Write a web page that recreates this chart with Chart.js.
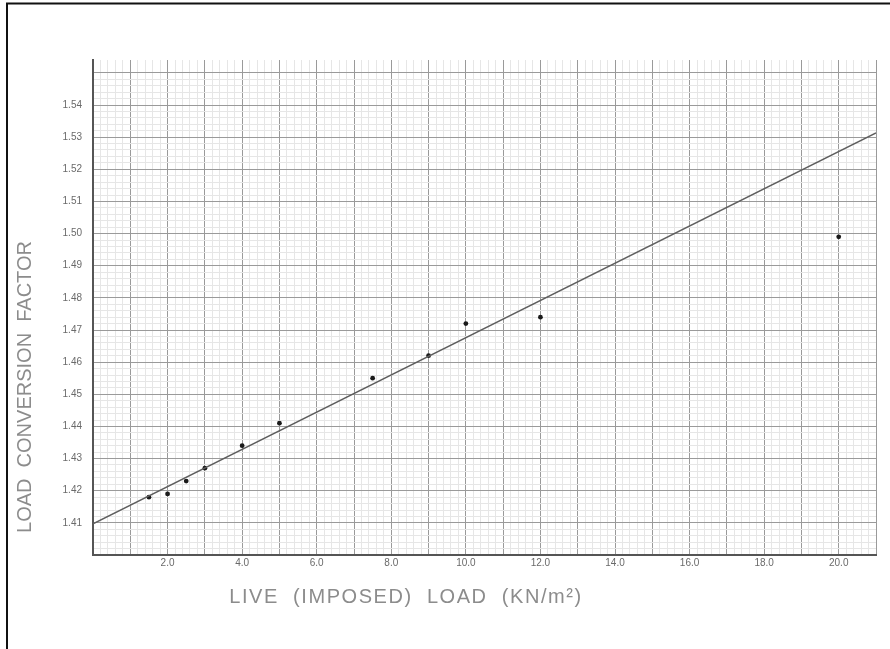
<!DOCTYPE html>
<html>
<head>
<meta charset="utf-8">
<script src="https://cdn.jsdelivr.net/npm/chart.js@4/dist/chart.umd.min.js"></script>
<style>
html,body{margin:0;padding:0;background:#fff;}
#c{display:block;}
</style>
</head>
<body>
<canvas id="c" width="890" height="649"></canvas>
<script>
// ---- data ----
const loads   = [1.5, 2.0, 2.5, 3.0, 4.0, 5.0, 7.5, 9.0, 10.0, 12.0, 20.0];
const factors = [1.418, 1.419, 1.423, 1.427, 1.434, 1.441, 1.455, 1.462, 1.472, 1.474, 1.499];
const fitLoads   = [0, 21];
const fitFactors = [1.4097, 1.5313];
const xTickLabels = ['2.0','4.0','6.0','8.0','10.0','12.0','14.0','16.0','18.0','20.0'];
const yTickLabels = ['1.41','1.42','1.43','1.44','1.45','1.46','1.47','1.48','1.49','1.50','1.51','1.52','1.53','1.54'];
const xTitle = 'LIVE  (IMPOSED)  LOAD  (KN/m\u00B2)';
const yTitle = 'LOAD  CONVERSION  FACTOR';

const MAJOR = '#9a9a9a', MINOR = '#e6e6e6';
const near = (a, b) => Math.abs(a - b) < 1e-6;

const decor = {
  id: 'decor',
  beforeDraw(chart) {
    const ctx = chart.ctx;
    ctx.save();
    ctx.fillStyle = '#fff';
    ctx.fillRect(0, 0, chart.width, chart.height);
    ctx.restore();
  },
  afterDraw(chart) {
    const ctx = chart.ctx;
    ctx.save();
    // outer frame (left and top)
    ctx.strokeStyle = '#111';
    ctx.lineWidth = 2;
    ctx.beginPath();
    ctx.moveTo(7, chart.height);
    ctx.lineTo(7, 3.5);
    ctx.lineTo(chart.width, 3.5);
    ctx.stroke();
    // axis titles
    ctx.fillStyle = '#8c8c8c';
    ctx.textBaseline = 'middle';
    ctx.textAlign = 'center';
    ctx.font = '300 20px "Liberation Sans", Arial, sans-serif';
    const fit = (txt, target) => {
      ctx.letterSpacing = '0px';
      const w = ctx.measureText(txt).width;
      const n = [...txt].length;
      const ls = Math.max(0, (target - w) / (n - 1));
      ctx.letterSpacing = ls.toFixed(2) + 'px';
    };
    fit(xTitle, 352);
    ctx.fillText(xTitle, 406, 597);
    ctx.translate(25, 387);
    ctx.rotate(-Math.PI / 2);
    fit(yTitle, 266);
    ctx.fillText(yTitle, 0, 0);
    ctx.restore();
  }
};

new Chart(document.getElementById('c'), {
  type: 'scatter',
  data: {
    datasets: [
      {
        type: 'line',
        data: fitLoads.map((x, i) => ({x, y: fitFactors[i]})),
        borderColor: '#5e5e5e',
        borderWidth: 1.4,
        pointRadius: 0,
        fill: false,
        tension: 0
      },
      {
        data: loads.map((x, i) => ({x, y: factors[i]})),
        backgroundColor: '#1a1a1a',
        borderColor: '#1a1a1a',
        pointRadius: 2.4,
        pointBorderWidth: 0
      }
    ]
  },
  plugins: [decor],
  options: {
    responsive: false,
    animation: false,
    devicePixelRatio: 1,
    layout: {padding: {top: 60, right: 14, left: 0, bottom: 0}},
    plugins: {legend: {display: false}, tooltip: {enabled: false}},
    scales: {
      x: {
        type: 'linear',
        min: 0, max: 21,
        afterFit: s => { s.height = 94; },
        border: {display: true, color: '#555', width: 2},
        grid: {
          drawTicks: false,
          lineWidth: 1,
          color: c => {
            const v = c.tick.value;
            return near(v, Math.round(v)) ? MAJOR : MINOR;
          }
        },
        ticks: {
          stepSize: 0.2,
          autoSkip: false,
          maxRotation: 0, minRotation: 0,
          padding: 2,
          color: '#6a6a6a',
          font: {family: '"Liberation Sans", Arial, sans-serif', size: 10},
          callback: v => {
            const s = Number(v).toFixed(1);
            return (near(v, Math.round(v)) && xTickLabels.includes(s)) ? s : '';
          }
        }
      },
      y: {
        type: 'linear',
        min: 1.40, max: 1.554,
        afterFit: s => { s.width = 93; },
        border: {display: true, color: '#555', width: 2},
        grid: {
          drawTicks: false,
          lineWidth: 1,
          color: c => {
            const v = c.tick.value;
            if (v > 1.5501) return 'rgba(0,0,0,0)';
            return near(v * 100, Math.round(v * 100)) ? MAJOR : MINOR;
          }
        },
        ticks: {
          stepSize: 0.002,
          autoSkip: false,
          padding: 11,
          color: '#6a6a6a',
          font: {family: '"Liberation Sans", Arial, sans-serif', size: 10},
          callback: v => {
            const s = Number(v).toFixed(2);
            return (near(v * 100, Math.round(v * 100)) && yTickLabels.includes(s)) ? s : '';
          }
        }
      }
    }
  }
});
</script>
</body>
</html>
